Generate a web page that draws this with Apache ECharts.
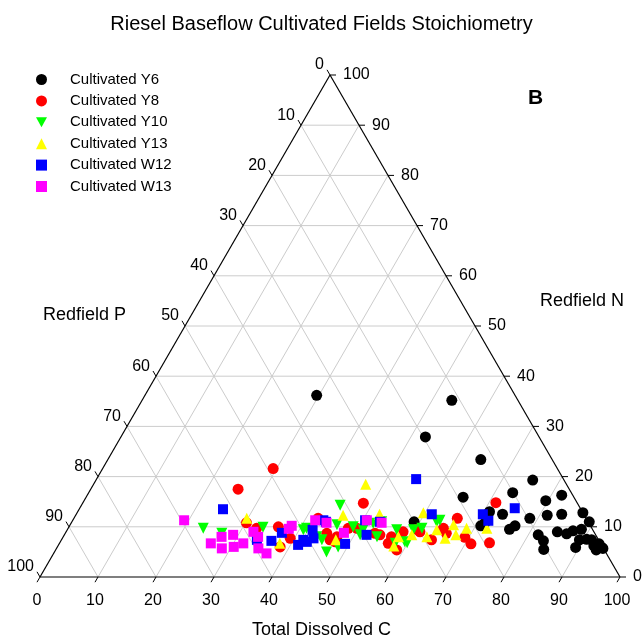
<!DOCTYPE html>
<html><head><meta charset="utf-8">
<script src="https://cdn.jsdelivr.net/npm/echarts@6/dist/echarts.min.js"></script>
<style>html,body{margin:0;padding:0;background:#fff}#c{width:643px;height:636px}</style>
</head><body><div id="c"></div>
<script>
// Ternary values as [Total Dissolved C %, Redfield N %]; Redfield P % = 100 - C - N
const seriesNames = ['Cultivated Y6','Cultivated Y8','Cultivated Y10','Cultivated Y13','Cultivated W12','Cultivated W13'];
const tickValues = [0,10,20,30,40,50,60,70,80,90,100];
const axisTitles = ['Total Dissolved C','Redfield N','Redfield P'];

const y6 = [[29.6,36.2],[53.4,35.2],[52.5,27.9],[64.3,23.4],[75.3,19.3],[73.1,16.8],[81.8,16.3],[65.0,15.9],
  [79.6,15.2],[73.5,12.5],[71.0,13.0],[78.6,11.7],[81.3,12.3],[83.7,12.5],[87.2,12.8],[89.2,11.0],[88.6,9.5],
  [76.2,9.5],[76.8,10.2],[70.9,10.2],[81.7,8.4],[83.2,7.2],[84.7,9.0],[86.5,8.6],[87.3,9.2],[89.3,7.4],
  [89.4,5.9],[90.5,7.5],[91.4,7.4],[92.4,6.2],[93.1,6.6],[93.2,5.4],[93.9,5.9],[59.0,11.0],[84.1,5.5],
  [71.3,10.8],[94.2,5.7]];
const y8 = [[29.4,21.6],[25.4,17.5],[48.4,14.7],[71.2,14.8],[66.1,11.7],[69.3,7.9],[71.0,6.6],[74.1,6.8],
  [30.2,10.8],[32.5,9.7],[36.1,10.0],[39.3,7.7],[38.4,6.0],[42.1,11.7],[45.1,8.7],[46.3,7.4],[47.2,8.0],
  [49.8,9.7],[54.4,8.4],[56.7,6.7],[58.8,5.4],[56.6,8.0],[48.3,9.7],[53.4,8.7],[58.1,9.0],[60.2,9.5],
  [63.8,7.4],[64.7,9.7],[65.7,8.7],[47.4,7.0],[61.0,9.0]];
const y10 = [[23.3,9.7],[27.0,8.7],[33.5,9.9],[41.1,9.7],[44.6,14.3],[46.9,5.0],[46.0,10.4],[49.0,10.0],
  [51.0,9.4],[52.1,10.7],[54.1,8.0],[56.8,9.4],[51.0,8.4],[48.4,6.0],[53.4,11.0],[59.4,7.0],[61.0,9.7],
  [62.9,11.0],[40.7,9.4],[43.7,8.0],[44.9,7.4],[59.7,9.4],[57.9,6.7],[59.9,6.8],[63.3,11.3]];
const y13 = [[29.8,11.7],[46.9,18.5],[52.3,12.5],[46.1,12.3],[59.7,12.8],[47.3,7.4],[57.9,6.2],[57.8,8.0],
  [59.9,8.4],[62.7,8.0],[63.7,9.4],[66.0,7.7],[66.1,10.4],[67.5,8.4],[68.7,9.7],[72.2,9.7],[38.0,6.7]];
const w12 = [[24.8,13.5],[55.1,19.5],[61.3,12.5],[75.0,13.7],[70.1,12.5],[71.7,11.2],[50.4,11.3],[53.1,11.0],
  [43.8,11.0],[42.3,9.4],[41.7,7.4],[43.3,7.7],[49.3,6.6],[52.1,8.4],[33.7,7.4],[36.3,7.2],[37.3,8.8],
  [41.3,6.4],[42.5,7.0],[43.2,11.3]];
const w13 = [[19.2,11.3],[26.1,6.7],[27.3,8.0],[28.5,5.7],[29.1,8.4],[30.4,6.0],[31.7,6.7],[32.3,9.0],
  [33.6,8.0],[34.8,5.7],[36.7,4.7],[38.3,10.2],[41.8,11.3],[44.0,10.8],[48.0,8.8],[50.7,11.3],[53.5,10.8],
  [38.1,9.6]];

const H = Math.sqrt(3) / 2;
function toXY(C, N) { return [C + N / 2, N * H]; }

const FONT = "'Liberation Sans', Arial, sans-serif";

// grid lines & frame segments (data space)
const gridSegs = [];
tickValues.forEach(t => {
  if (t > 0 && t < 100) {
    gridSegs.push([...toXY(0, t), ...toXY(100 - t, t)]);      // constant N
    gridSegs.push([...toXY(t, 0), ...toXY(t, 100 - t)]);      // constant C
    gridSegs.push([...toXY(0, 100 - t), ...toXY(100 - t, 0)]); // constant P
  }
});
const frameSegs = [
  [...toXY(0, 0), ...toXY(100, 0)],
  [...toXY(100, 0), ...toXY(0, 100)],
  [...toXY(0, 100), ...toXY(0, 0)]
];
// ticks: [x, y, side, label]; side 0 bottom (C), 1 right (N), 2 left (P)
const tickData = [];
tickValues.forEach(t => {
  tickData.push([...toXY(t, 0), 0, t]);
  tickData.push([...toXY(100 - t, t), 1, t]);
  tickData.push([...toXY(0, 100 - t), 2, t]);
});

function segRender(color, width) {
  return function (params, api) {
    const p1 = api.coord([api.value(0), api.value(1)]);
    const p2 = api.coord([api.value(2), api.value(3)]);
    return { type: 'line', shape: { x1: p1[0], y1: p1[1], x2: p2[0], y2: p2[1] },
      style: { stroke: color, lineWidth: width } };
  };
}

function tickRender(params, api) {
  const p = api.coord([api.value(0), api.value(1)]);
  const side = api.value(2);
  const lab = String(api.value(3));
  const L = 6;
  let d, tx, ty, align, vAlign;
  if (side === 0) { d = [-0.5 * L, H * L]; tx = p[0] - 3; ty = p[1] + 24; align = 'center'; vAlign = 'middle'; }
  else if (side === 1) { d = [L, 0]; tx = p[0] + 13; ty = p[1]; align = 'left'; vAlign = 'middle'; }
  else { d = [-0.5 * L, -H * L]; tx = p[0] - 6; ty = p[1] - 10; align = 'right'; vAlign = 'middle'; }
  return { type: 'group', children: [
    { type: 'line', shape: { x1: p[0], y1: p[1], x2: p[0] + d[0], y2: p[1] + d[1] }, style: { stroke: '#000', lineWidth: 1 } },
    { type: 'text', style: { text: lab, x: tx, y: ty, align: align, verticalAlign: vAlign, fill: '#000', font: '16px ' + FONT } }
  ] };
}

const downTri = 'path://M0,0L10,0L5,9Z';
const styles = [
  { symbol: 'circle', color: '#000000', size: 11 },
  { symbol: 'circle', color: '#ff0000', size: 11 },
  { symbol: downTri, color: '#00ff00', size: 11 },
  { symbol: 'triangle', color: '#ffff00', size: 11 },
  { symbol: 'rect', color: '#0000ff', size: 10 },
  { symbol: 'rect', color: '#ff00ff', size: 10 }
];
const allData = [y6, y8, y10, y13, w12, w13];

const scatterSeries = allData.map((arr, i) => ({
  type: 'scatter', name: seriesNames[i], symbol: styles[i].symbol, symbolSize: styles[i].size,
  itemStyle: { color: styles[i].color, opacity: 1 },
  data: arr.map(d => toXY(d[0], d[1])), z: 10 + i, silent: true
}));

const chart = echarts.init(document.getElementById('c'), null, { renderer: 'canvas' });
chart.setOption({
  animation: false,
  backgroundColor: '#fff',
  title: [
    { text: 'Riesel Baseflow Cultivated Fields Stoichiometry', left: 'center', top: 9,
      textStyle: { fontFamily: FONT, fontSize: 20, fontWeight: 'normal', color: '#000' } },
    { text: 'B', left: 523, top: 83, textStyle: { fontFamily: FONT, fontSize: 21, fontWeight: 'bold', color: '#000' } },
    { text: axisTitles[0], left: 'center', top: 616, textStyle: { fontFamily: FONT, fontSize: 18, fontWeight: 'normal', color: '#000' } },
    { text: axisTitles[1], left: 535, top: 287, textStyle: { fontFamily: FONT, fontSize: 18, fontWeight: 'normal', color: '#000' } },
    { text: axisTitles[2], left: 38, top: 301, textStyle: { fontFamily: FONT, fontSize: 18, fontWeight: 'normal', color: '#000' } }
  ],
  legend: {
    orient: 'vertical', left: 31, top: 67, itemWidth: 11, itemHeight: 11, itemGap: 6.4,
    data: seriesNames.map((n, i) => ({ name: n, icon: styles[i].symbol })),
    textStyle: { fontFamily: FONT, fontSize: 15, color: '#000', padding: [0, 0, 0, 18], lineHeight: 11 },
    selectedMode: false
  },
  grid: { left: 40, top: 75, width: 580, height: 502, containLabel: false },
  xAxis: { type: 'value', min: 0, max: 100, show: false },
  yAxis: { type: 'value', min: 0, max: 100 * H, show: false },
  series: [
    { type: 'custom', name: 'grid', data: gridSegs, renderItem: segRender('#cccccc', 1), clip: false, silent: true, z: 1 },
    { type: 'custom', name: 'frame', data: frameSegs, renderItem: segRender('#000', 1.2), clip: false, silent: true, z: 2 },
    { type: 'custom', name: 'ticks', data: tickData, renderItem: tickRender, clip: false, silent: true, z: 2 },
    ...scatterSeries
  ]
});
</script></body></html>
